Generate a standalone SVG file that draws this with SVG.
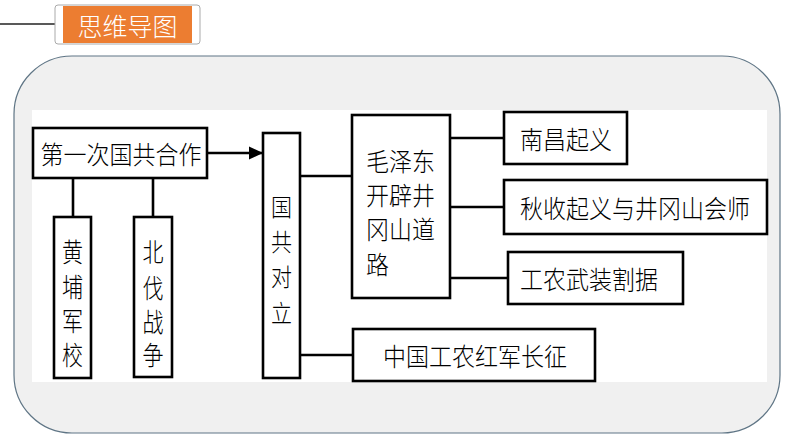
<svg xmlns="http://www.w3.org/2000/svg" width="794" height="447" viewBox="0 0 794 447">
<defs>
<style>
.box{fill:#fff;stroke:#000;stroke-width:2.6}
.ln{fill:none;stroke:#000;stroke-width:2.6}
.t{font-family:"Noto Sans CJK SC","Noto Sans CJK TC",sans-serif;font-size:23px;font-weight:300;fill:#000;text-anchor:middle;dominant-baseline:central}
.v{font-family:"Noto Sans CJK SC","Noto Sans CJK TC",sans-serif;font-size:21px;font-weight:300;fill:#000;text-anchor:middle;dominant-baseline:central}
.tl{font-family:"Noto Sans CJK SC","Noto Sans CJK TC",sans-serif;font-size:23px;font-weight:300;fill:#000;text-anchor:start;dominant-baseline:central}
</style>
<marker id="arr" markerWidth="14" markerHeight="14" refX="13" refY="7" orient="auto" markerUnits="userSpaceOnUse">
<path d="M0,0.5 L14,7 L0,13.5 Z" fill="#000"/>
</marker>
</defs>
<rect width="794" height="447" fill="#fff"/>
<g id="title">
<line x1="0" y1="24" x2="55" y2="24" stroke="#222" stroke-width="1.5"/>
<rect x="55" y="5" width="145" height="39" rx="3" fill="#fff" stroke="#aaa" stroke-width="1"/>
<rect x="63" y="6" width="129" height="37" fill="#ec7d31"/>
<text x="127.5" y="25" font-family="&quot;Noto Sans CJK SC&quot;,sans-serif" font-size="25" font-weight="300" fill="#fff" text-anchor="middle" dominant-baseline="central">思维导图</text>
</g>
<g id="panel">
<rect x="14" y="56" width="766" height="377" rx="58" ry="58" fill="#f0f0f0" stroke="#5f7585" stroke-width="1.2"/>
<rect x="32" y="110" width="735" height="272" fill="#fff"/>
</g>
<g id="connectors">
<line class="ln" x1="208" y1="153" x2="262" y2="153" marker-end="url(#arr)"/>
<line class="ln" x1="73" y1="178" x2="73" y2="217"/>
<line class="ln" x1="153" y1="178" x2="153" y2="217"/>
<line class="ln" x1="300" y1="176" x2="352" y2="176"/>
<line class="ln" x1="300" y1="355" x2="353" y2="355"/>
<line class="ln" x1="450" y1="138" x2="504" y2="138"/>
<line class="ln" x1="450" y1="207" x2="504" y2="207"/>
<line class="ln" x1="450" y1="278" x2="508" y2="278"/>
</g>
<g id="n1">
<rect class="box" x="33" y="128" width="174" height="50"/>
<text class="t" transform="matrix(1,0,0,1.1,121,153)">第一次国共合作</text>
</g>
<g id="n2">
<rect class="box" x="54" y="217" width="37" height="161"/>
<text class="v" transform="matrix(1,0,0,1.25,72.5,250)">黄</text>
<text class="v" transform="matrix(1,0,0,1.25,72.5,285)">埔</text>
<text class="v" transform="matrix(1,0,0,1.25,72.5,319)">军</text>
<text class="v" transform="matrix(1,0,0,1.25,72.5,353)">校</text>
</g>
<g id="n3">
<rect class="box" x="134" y="217" width="38" height="160"/>
<text class="v" transform="matrix(1,0,0,1.25,153,250)">北</text>
<text class="v" transform="matrix(1,0,0,1.25,153,286)">伐</text>
<text class="v" transform="matrix(1,0,0,1.25,153,320)">战</text>
<text class="v" transform="matrix(1,0,0,1.25,153,353)">争</text>
</g>
<g id="n4">
<rect class="box" x="263" y="133" width="37" height="245"/>
<text class="v" transform="matrix(1,0,0,1.15,281.5,206)">国</text>
<text class="v" transform="matrix(1,0,0,1.15,281.5,241)">共</text>
<text class="v" transform="matrix(1,0,0,1.15,281.5,276)">对</text>
<text class="v" transform="matrix(1,0,0,1.15,281.5,312)">立</text>
</g>
<g id="n5">
<rect class="box" x="352" y="115" width="98" height="183"/>
<text class="tl" transform="matrix(1,0,0,1.1,366,160)">毛泽东</text>
<text class="tl" transform="matrix(1,0,0,1.1,366,194)">开辟井</text>
<text class="tl" transform="matrix(1,0,0,1.1,366,228)">冈山道</text>
<text class="tl" transform="matrix(1,0,0,1.1,366,263)">路</text>
</g>
<g id="n6">
<rect class="box" x="504" y="112" width="123" height="52"/>
<text class="t" transform="matrix(1,0,0,1.1,566,138)">南昌起义</text>
</g>
<g id="n7">
<rect class="box" x="504" y="180" width="263" height="54"/>
<text class="t" transform="matrix(1,0,0,1.1,635,207)">秋收起义与井冈山会师</text>
</g>
<g id="n8">
<rect class="box" x="508" y="252" width="175" height="52"/>
<text class="t" transform="matrix(1,0,0,1.1,589,278)">工农武装割据</text>
</g>
<g id="n9">
<rect class="box" x="353" y="329" width="242" height="52"/>
<text class="t" transform="matrix(1,0,0,1.1,475,355)">中国工农红军长征</text>
</g>
</svg>
